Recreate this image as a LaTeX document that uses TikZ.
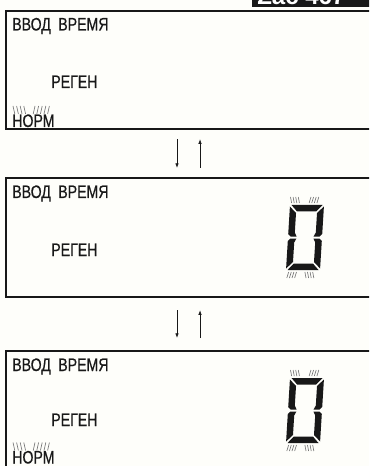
\documentclass[tikz,border=0pt]{standalone}
\usepackage{fontspec}
\newfontfamily\lcdfont[FakeStretch=0.78,FakeBold=0.5]{Liberation Sans}
\newfontfamily\tagfont{Liberation Sans}
\usetikzlibrary{arrows.meta,positioning,calc}
\definecolor{paper}{RGB}{254,254,250}
\definecolor{ink}{RGB}{24,24,24}
\definecolor{blink}{RGB}{120,120,120}
\tikzset{
  lcdframe/.style={draw=ink, line width=1.6pt, anchor=north west, minimum width=285pt, inner sep=0pt},
  lcdtext/.style={font=\lcdfont\fontsize{13.6}{15}\selectfont, text=ink, anchor=base west, inner sep=0pt},
  tagtext/.style={font=\tagfont\bfseries\fontsize{18}{20}\selectfont, text=white, anchor=base west, inner sep=0pt},
  flowarr/.style={-{Latex[length=3.5pt,width=2.6pt]}, draw=ink, line width=0.55pt},
  segm/.style={fill=ink, draw=none},
  blinkln/.style={draw=blink, line width=0.5pt},
}
% seven segment "0" with blink marks, top left corner at #1
\newcommand{\lcdzero}[1]{%
  \begin{scope}[shift={#1}, xslant=0.0615]
    \fill[segm] (1.5,0) -- (32.5,0) -- (26.5,6.5) -- (7.5,6.5) -- cycle;
    \fill[segm] (1.5,65) -- (32.5,65) -- (26.5,58.5) -- (7.5,58.5) -- cycle;
    \fill[segm] (0,1.5) -- (6.5,8) -- (6.5,27.5) -- (8.5,31.5) -- (2.5,31.5) -- (0,29) -- cycle;
    \fill[segm] (0,36) -- (2.5,33.5) -- (8.5,33.5) -- (6.5,37.5) -- (6.5,57) -- (0,63.5) -- cycle;
    \fill[segm] (34,1.5) -- (27.5,8) -- (27.5,27.5) -- (25.5,31.5) -- (31.5,31.5) -- (34,29) -- cycle;
    \fill[segm] (34,36) -- (31.5,33.5) -- (25.5,33.5) -- (27.5,37.5) -- (27.5,57) -- (34,63.5) -- cycle;
    \foreach \i in {0,...,3} {
      \draw[blinkln] (\i*2.6,-8) -- ++(1.5,6);
      \draw[blinkln] (20.5+\i*2.6,-8) -- ++(-1.5,6);
      \draw[blinkln] (2.8+\i*2.6,67) -- ++(-1.5,6);
      \draw[blinkln] (19+\i*2.6,67) -- ++(1.5,6);
    }
  \end{scope}}
% blink marks above a label
\newcommand{\normblink}[1]{%
  \foreach \i in {0,...,3}
    \draw[blinkln] ($(#1.base west)+(1+\i*3.6,-21)$) -- ++(1.8,8);
  \foreach \i in {0,...,4}
    \draw[blinkln] ($(#1.base west)+(23+\i*3.6,-21)$) -- ++(-1.8,8);
}

\begin{document}
\begin{tikzpicture}[x=0.75pt, y=-0.75pt]
  \useasboundingbox (0,0) rectangle (369,466);
  \clip (0,0) rectangle (369,466);
  \fill[paper] (0,0) rectangle (369,466);
  % figure tag, cut off at the top edge
  \fill[ink] (252,-5) rectangle (380,7.5);
  \node[tagtext] (tag) at (257,4.5) {Zас 467};

  % display panels
  \node[lcdframe, minimum height=88.5pt] (p1) at (5,10) {};
  \node[lcdframe, minimum height=89.25pt] (p2) at (5,177) {};
  \node[lcdframe, minimum height=110pt] (p3) at (5,350) {};

  \foreach \p/\vy/\ry in {1/20.5/78, 2/21/79, 3/21/76} {
    \node[lcdtext] (vvod\p) at ($(p\p.north west)+(7,\vy)$) {ВВОД};
    \node[lcdtext] (vremya\p) at ($(vvod\p.base west)+(46,0)$) {ВРЕМЯ};
    \node[lcdtext] (regen\p) at ($(p\p.north west)+(46,\ry)$) {РЕГЕН};
  }
  \node[lcdtext] (norm1) at ($(p1.north west)+(7,117)$) {НОРМ};
  \node[lcdtext] (norm3) at ($(p3.north west)+(7,113.5)$) {НОРМ};
  \normblink{norm1}
  \normblink{norm3}

  \lcdzero{(290,205)}
  \lcdzero{(290,378)}

  % transitions
  \draw[flowarr] ($(p1.south west)+(172,9)$) -- ($(p2.north west)+(172,-9)$);
  \draw[flowarr] ($(p2.north west)+(195,-9)$) -- ($(p1.south west)+(195,9)$);
  \draw[flowarr] ($(p2.south west)+(172,12)$) -- ($(p3.north west)+(172,-12)$);
  \draw[flowarr] ($(p3.north west)+(195,-12)$) -- ($(p2.south west)+(195,12)$);
\end{tikzpicture}
\end{document}
